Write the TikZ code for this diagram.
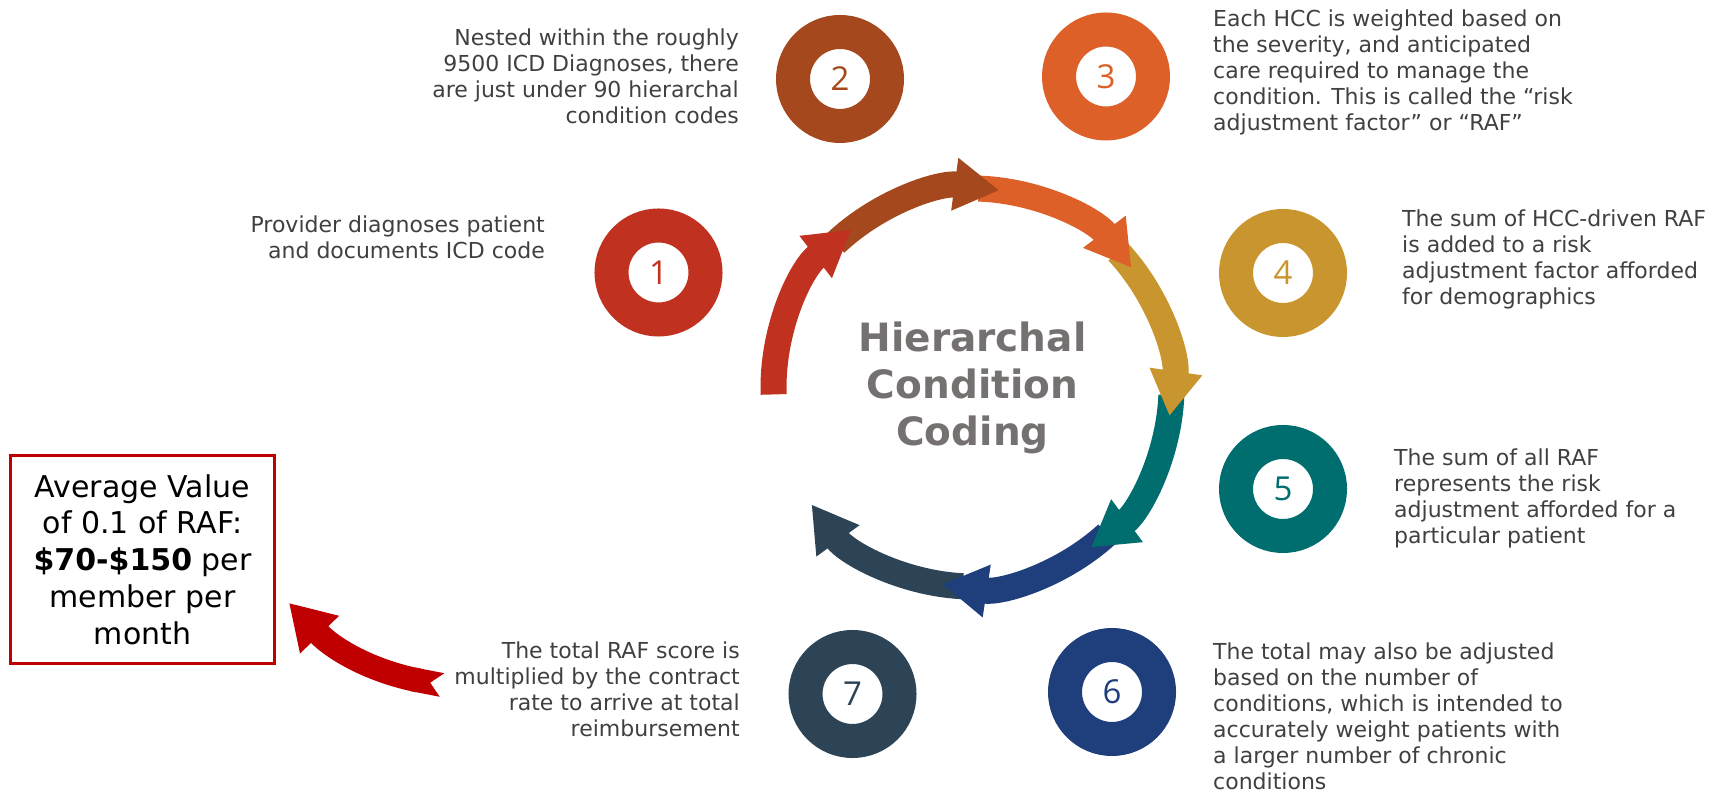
\documentclass[tikz,border=0pt]{standalone}
\usepackage{fontspec}
\setmainfont{DejaVu Sans}
\newfontfamily\numfont{Open Sans}
\usepackage{tikz}
\usetikzlibrary{arrows.meta, positioning}

\definecolor{stepone}{RGB}{192,49,32}
\definecolor{steptwo}{RGB}{165,72,30}
\definecolor{stepthree}{RGB}{221,96,41}
\definecolor{stepfour}{RGB}{201,149,47}
\definecolor{stepfive}{RGB}{0,110,110}
\definecolor{stepsix}{RGB}{31,62,124}
\definecolor{stepseven}{RGB}{45,68,86}
\definecolor{rafred}{RGB}{192,0,0}
\definecolor{titlegray}{RGB}{118,113,113}
\definecolor{notegray}{RGB}{64,64,64}

\newcommand{\ballsize}{94pt}
\newcommand{\ringradius}{199}
\tikzstyle{ball} = [% numbered circle
  circle,
  minimum size=\ballsize,
  inner sep=0pt,
  line width=34pt,
  fill=white,
  font=\numfont\fontsize{33}{33}\selectfont
  ]
\tikzstyle{noteleft} = [% text on the left of a circle
  inner sep=0pt,
  align=right,
  text=notegray,
  font=\fontsize{22}{26}\selectfont
  ]
\tikzstyle{noteright} = [% text on the right of a circle
  inner sep=0pt,
  align=left,
  text=notegray,
  font=\fontsize{22}{26}\selectfont
  ]
\tikzstyle{hcctitle} = [% centre of the cycle
  align=center,
  text=titlegray,
  font=\bfseries\fontsize{39}{47}\selectfont
  ]
\tikzstyle{valuebox} = [% value box
  rectangle,
  draw=rafred,
  line width=3pt,
  minimum width=264pt,
  minimum height=208pt,
  inner sep=0pt,
  align=center,
  font=\fontsize{30}{36.7}\selectfont
  ]
\tikzstyle{ringarrow} = [% arrow of the cycle
  line width=26pt,
  -{Triangle[width=50pt,length=45pt]}
  ]
\tikzstyle{rafarrow} = [% arrow to the value box
  draw=rafred,
  line width=24pt,
  {Triangle Cap[reversed]}-{Triangle[width=51pt,length=44pt]}
  ]

\begin{document}
\begin{tikzpicture}[x=1pt, y=1pt]
\useasboundingbox (0,0) rectangle (1718,794);

%%% Cycle
\node[hcctitle] (hcc) at (972.5,406.5) {Hierarchal\\Condition\\Coding};
\foreach \col/\from/\to in {stepseven/-92.75/-144, stepsix/-47.5/-98.75,
    stepfive/-2.25/-53.5, stepfour/43/-8.25, stepthree/88.25/37,
    steptwo/133.5/82.25, stepone/182/127.5}
  \draw[ringarrow, draw=\col] (hcc.center) ++(\from:\ringradius)
    arc[start angle=\from, end angle=\to, radius=\ringradius];

%%% Steps
\node[ball, draw=stepone, text=stepone] (c1) at (658.5,521.5) {1};
\node[ball, draw=steptwo, text=steptwo] (c2) at (840,715) {2};
\node[ball, draw=stepthree, text=stepthree] (c3) at (1106,717.5) {3};
\node[ball, draw=stepfour, text=stepfour] (c4) at (1283,521) {4};
\node[ball, draw=stepfive, text=stepfive] (c5) at (1283,305) {5};
\node[ball, draw=stepsix, text=stepsix] (c6) at (1112,102) {6};
\node[ball, draw=stepseven, text=stepseven] (c7) at (852.5,100) {7};

\node[noteleft, left=49.5pt of c1.west, anchor=north east, yshift=57.2pt] (t1)
  {Provider diagnoses patient\\and documents ICD code};
\node[noteleft, left=37pt of c2.west, anchor=north east, yshift=50.7pt] (t2)
  {Nested within the roughly\\9500 ICD Diagnoses, there\\are just under 90 hierarchal\\condition codes};
\node[noteright, right=43pt of c3.east, anchor=north west, yshift=67.2pt] (t3)
  {Each HCC is weighted based on\\the severity, and anticipated\\care required to manage the\\condition. This is called the “risk\\adjustment factor” or “RAF”};
\node[noteright, right=55pt of c4.east, anchor=north west, yshift=63.7pt] (t4)
  {The sum of HCC-driven RAF\\is added to a risk\\adjustment factor afforded\\for demographics};
\node[noteright, right=47pt of c5.east, anchor=north west, yshift=40.7pt] (t5)
  {The sum of all RAF\\represents the risk\\adjustment afforded for a\\particular patient};
\node[noteright, right=37pt of c6.east, anchor=north west, yshift=49.7pt] (t6)
  {The total may also be adjusted\\based on the number of\\conditions, which is intended to\\accurately weight patients with\\a larger number of chronic\\conditions};
\node[noteleft, left=48.5pt of c7.west, anchor=north east, yshift=52.7pt] (t7)
  {The total RAF score is\\multiplied by the contract\\rate to arrive at total\\reimbursement};

%%% Value
\node[valuebox] (raf) at (142.5,234.5)
  {Average Value\\of 0.1 of RAF:\\\textbf{\$70-\$150} per\\member per\\month};
\coordinate (raftail) at (442,109);
\draw[rafarrow] (raftail) to[out=169, in=-46] ([xshift=13pt, yshift=-43.5pt]raf.east);

\end{tikzpicture}
\end{document}
